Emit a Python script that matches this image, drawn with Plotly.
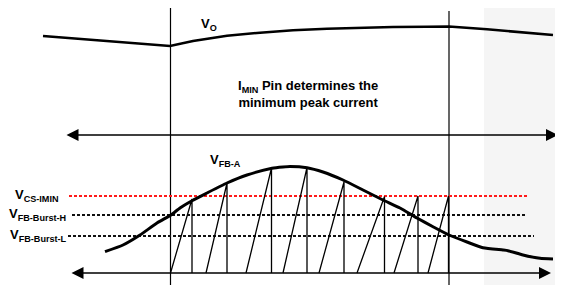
import plotly.graph_objects as go

# Output voltage waveform (Vo)
vo_x = [43, 170, 193, 227, 260, 293, 327, 360, 393, 427, 449, 487, 553]
vo_y = [36, 46, 41, 35.7, 32.7, 30.3, 28.7, 27.7, 27, 26.7, 26.5, 29.3, 35]

# Feedback voltage waveform (VFB-A)
vfb_x = [105, 123, 140, 157, 171, 180, 192, 207, 227, 247, 272, 283, 290, 307, 323, 343,
         363, 383, 400, 417, 433, 449, 467, 483, 503, 508, 523, 540, 553]
vfb_y = [251.7, 245, 235, 223, 215, 208, 200.7, 193, 183, 175, 168.3, 167, 166.5, 167.7, 172, 180,
         190, 200, 208, 218, 226.7, 235, 242, 247.7, 250, 250.7, 255, 258.3, 259]

# Sawtooth current pulses
ramp_start_x = [170.5, 206, 246, 283, 319, 357, 394, 428]
peak_x = [192, 227, 271.5, 307, 344, 384.5, 418, 448.5]
peak_y = [199, 183, 168, 167.5, 182, 196.5, 196, 196]
base_y = 273

# Threshold levels
level_names = ["V<sub>CS-IMIN</sub>", "V<sub>FB-Burst-H</sub>", "V<sub>FB-Burst-L</sub>"]
level_y = [196, 215, 236]
level_x0 = [69, 72, 68]
level_x1 = [529, 526, 534]
level_colors = ["#ff1a1a", "#111111", "#111111"]
label_x = [14, 8, 8.5]

# Time markers
marker_x = [170.5, 449]
marker_top = [7, 11]

FONT = "Liberation Sans, Arial, sans-serif"
OFF = 8  # page body margin

fig = go.Figure()

# background watermark (light grey right band)
fig.add_shape(type="rect", x0=484, x1=600, y0=0, y1=300,
              fillcolor="#f5f5f5", line_width=0, layer="below")

# vertical time markers
for mx, mt in zip(marker_x, marker_top):
    fig.add_trace(go.Scatter(x=[mx, mx], y=[mt, 300], mode="lines",
                             line=dict(color="black", width=1.2), hoverinfo="skip"))

# threshold lines
for y, x0, x1, c in zip(level_y, level_x0, level_x1, level_colors):
    fig.add_trace(go.Scatter(x=[x0, x1], y=[y, y], mode="lines",
                             line=dict(color=c, width=2, dash="3px,2px"), hoverinfo="skip"))

# sawtooth
sx, sy = [], []
for xs, xp, yp in zip(ramp_start_x, peak_x, peak_y):
    sx += [xs, xp, xp, None]
    sy += [base_y, yp, base_y, None]
fig.add_trace(go.Scatter(x=sx, y=sy, mode="lines",
                         line=dict(color="black", width=1.3), hoverinfo="skip"))

# curves
fig.add_trace(go.Scatter(x=vo_x, y=vo_y, mode="lines",
                         line=dict(color="black", width=2.6), hoverinfo="skip"))
fig.add_trace(go.Scatter(x=vfb_x, y=vfb_y, mode="lines", line_shape="spline",
                         line=dict(color="black", width=3, smoothing=0.5), hoverinfo="skip"))

annotations = []
# double-headed arrows
for (x0, x1, y) in [(65, 558, 135), (70, 551, 273)]:
    annotations.append(dict(x=x1, y=y, ax=x0, ay=y, xref="x", yref="y",
                            axref="x", ayref="y", showarrow=True, text="",
                            arrowhead=2, arrowsize=1.6, arrowwidth=1.5,
                            arrowside="end+start", arrowcolor="black"))

# level labels
for name, y, lx in zip(level_names, level_y, label_x):
    annotations.append(dict(x=lx, y=y - 1, xref="x", yref="y", text="<b>" + name + "</b>",
                            showarrow=False, xanchor="left", yanchor="middle", xshift=-1,
                            font=dict(family=FONT, size=13, color="black")))

annotations.append(dict(x=199, y=24, xref="x", yref="y", text="<b>V<sub>O</sub></b>",
                        showarrow=False, xanchor="left", yanchor="middle",
                        font=dict(family=FONT, size=13, color="black")))
annotations.append(dict(x=208, y=160, xref="x", yref="y", text="<b>V<sub>FB-A</sub></b>",
                        showarrow=False, xanchor="left", yanchor="middle",
                        font=dict(family=FONT, size=13, color="black")))
annotations.append(dict(x=308, y=94, xref="x", yref="y",
                        text="<b>I<sub>MIN</sub> Pin determines the<br>minimum peak current</b>",
                        showarrow=False, xanchor="center", yanchor="middle", align="center",
                        font=dict(family=FONT, size=13, color="black")))

fig.update_layout(
    width=563, height=285,
    margin=dict(l=0, r=0, t=0, b=0),
    paper_bgcolor="white", plot_bgcolor="white",
    showlegend=False,
    xaxis=dict(range=[OFF, 563 + OFF], visible=False, fixedrange=True),
    yaxis=dict(range=[285 + OFF, OFF], visible=False, fixedrange=True),
    annotations=annotations,
)

fig.write_html("out.html")
